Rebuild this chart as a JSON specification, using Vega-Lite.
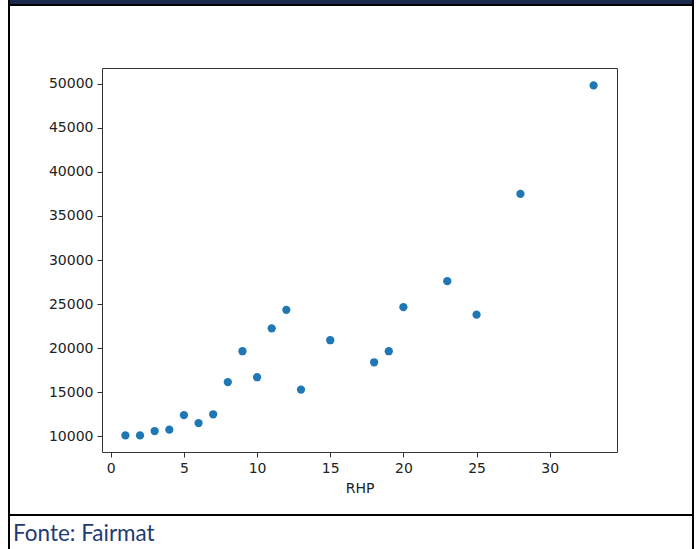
{
  "$schema": "https://vega.github.io/schema/vega-lite/v6.json",
  "width": 515,
  "height": 384,
  "autosize": {"type": "none"},
  "padding": {"left": 102, "top": 68, "right": 79, "bottom": 97},
  "background": "white",
  "title": {
    "text": "Fonte: Fairmat",
    "orient": "bottom",
    "anchor": "start",
    "frame": "group",
    "offset": -27,
    "dx": -89,
    "font": "Lato",
    "fontSize": 22.5,
    "fontWeight": "normal",
    "color": "#1f3b73"
  },
  "config": {
    "view": {"stroke": "#333333", "strokeWidth": 1},
    "axis": {
      "grid": false,
      "domain": false,
      "tickColor": "#333333",
      "tickSize": 5,
      "tickWidth": 1,
      "labelFont": "DejaVu Sans",
      "labelFontSize": 14,
      "labelColor": "#222222",
      "labelPadding": 4,
      "titleFont": "DejaVu Sans",
      "titleFontSize": 14,
      "titleFontWeight": "normal",
      "titleColor": "#222222"
    }
  },
  "layer": [
    {
      "data": {"values": [
        {"RHP": 1, "valor": 10100},
        {"RHP": 2, "valor": 10100},
        {"RHP": 3, "valor": 10600},
        {"RHP": 4, "valor": 10750},
        {"RHP": 5, "valor": 12400},
        {"RHP": 6, "valor": 11500},
        {"RHP": 7, "valor": 12500},
        {"RHP": 8, "valor": 16150},
        {"RHP": 9, "valor": 19650},
        {"RHP": 10, "valor": 16700},
        {"RHP": 11, "valor": 22250},
        {"RHP": 12, "valor": 24350},
        {"RHP": 13, "valor": 15300},
        {"RHP": 15, "valor": 20900},
        {"RHP": 18, "valor": 18400},
        {"RHP": 19, "valor": 19650},
        {"RHP": 20, "valor": 24650},
        {"RHP": 23, "valor": 27600},
        {"RHP": 25, "valor": 23800},
        {"RHP": 28, "valor": 37500},
        {"RHP": 33, "valor": 49800}
      ]},
      "mark": {"type": "point", "filled": true, "size": 68, "opacity": 1, "color": "#1f77b4"},
      "encoding": {
        "x": {
          "field": "RHP",
          "type": "quantitative",
          "scale": {"domain": [-0.6, 34.6], "nice": false, "zero": false},
          "axis": {"values": [0, 5, 10, 15, 20, 25, 30], "title": "RHP", "titlePadding": 6}
        },
        "y": {
          "field": "valor",
          "type": "quantitative",
          "scale": {"domain": [8220, 51780], "nice": false, "zero": false},
          "axis": {"values": [10000, 15000, 20000, 25000, 30000, 35000, 40000, 45000, 50000], "format": "d", "title": null}
        }
      }
    },
    {
      "data": {"values": [{}]},
      "mark": {"type": "rule", "color": "#1b2a4f", "strokeWidth": 4},
      "encoding": {
        "x": {"datum": -6.9, "type": "quantitative"},
        "x2": {"datum": 39.8},
        "y": {"datum": 59267, "type": "quantitative"}
      }
    },
    {
      "data": {"values": [{}]},
      "mark": {"type": "rule", "color": "#000000", "strokeWidth": 2},
      "encoding": {
        "x": {"datum": -6.956, "type": "quantitative"},
        "x2": {"datum": 39.794},
        "y": {"datum": 58927, "type": "quantitative"}
      }
    },
    {
      "data": {"values": [{}]},
      "mark": {"type": "rule", "color": "#000000", "strokeWidth": 2},
      "encoding": {
        "x": {"datum": -6.956, "type": "quantitative"},
        "x2": {"datum": 39.794},
        "y": {"datum": 1073, "type": "quantitative"}
      }
    },
    {
      "data": {"values": [{}]},
      "mark": {"type": "rule", "color": "#000000", "strokeWidth": 2},
      "encoding": {
        "x": {"datum": -6.956, "type": "quantitative"},
        "y": {"datum": 60000, "type": "quantitative"},
        "y2": {"datum": -2790}
      }
    },
    {
      "data": {"values": [{}]},
      "mark": {"type": "rule", "color": "#000000", "strokeWidth": 2},
      "encoding": {
        "x": {"datum": 39.794, "type": "quantitative"},
        "y": {"datum": 60000, "type": "quantitative"},
        "y2": {"datum": -2790}
      }
    }
  ]
}
